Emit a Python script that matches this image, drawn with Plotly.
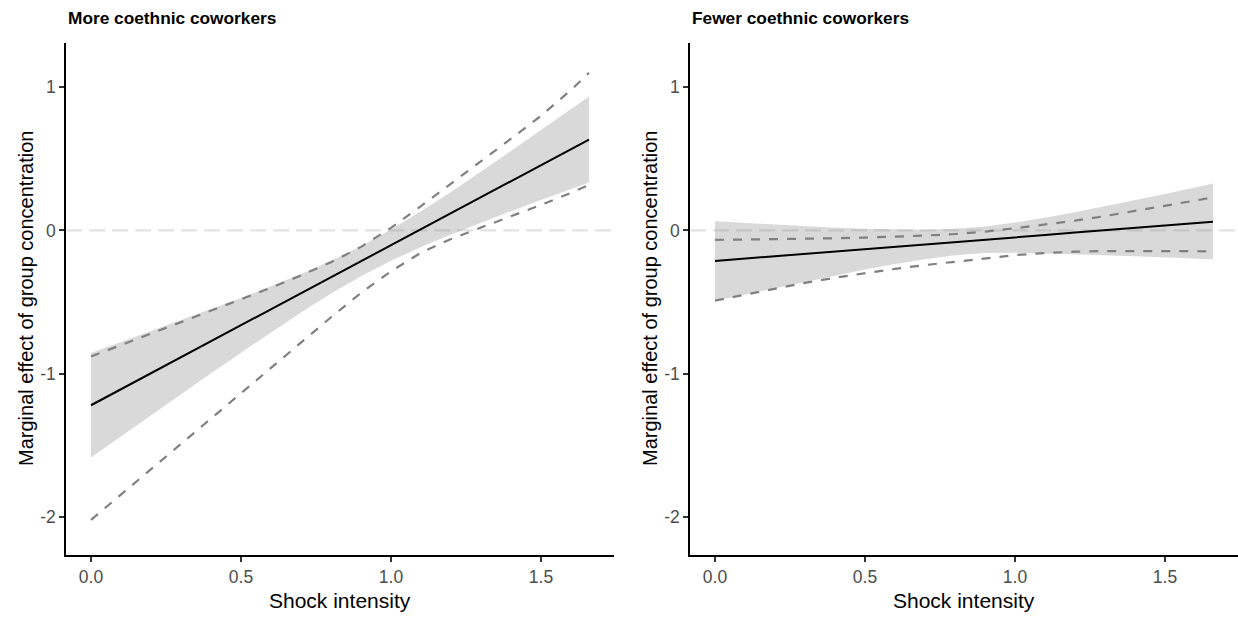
import plotly.graph_objects as go

# ---------------- data ----------------
panel_titles = ["More coethnic coworkers", "Fewer coethnic coworkers"]
x_title = "Shock intensity"
y_title = "Marginal effect of group concentration"

shock = [0.0, 0.1, 0.2, 0.3, 0.4, 0.5, 0.6, 0.7, 0.8, 0.9,
         1.0, 1.1, 1.2, 1.3, 1.4, 1.5, 1.6, 1.66]

# Panel 1: more coethnic coworkers
more_est = [-1.220, -1.108, -0.997, -0.885, -0.773, -0.662, -0.550, -0.438, -0.326,
            -0.215, -0.103, 0.009, 0.120, 0.232, 0.344, 0.456, 0.567, 0.634]
more_ci_hi = [-0.855, -0.779, -0.704, -0.627, -0.549, -0.471, -0.390, -0.304, -0.212,
              -0.110, 0.006, 0.134, 0.269, 0.410, 0.554, 0.700, 0.846, 0.934]
more_ci_lo = [-1.585, -1.437, -1.290, -1.143, -0.997, -0.853, -0.710, -0.572, -0.440,
              -0.320, -0.212, -0.116, -0.029, 0.054, 0.134, 0.212, 0.288, 0.334]
more_alt_hi = [-0.880, -0.800, -0.722, -0.643, -0.563, -0.482, -0.400, -0.314, -0.222,
               -0.115, 0.018, 0.170, 0.325, 0.480, 0.640, 0.800, 0.980, 1.100]
more_alt_lo = [-2.020, -1.843, -1.666, -1.489, -1.312, -1.135, -0.958, -0.781, -0.606,
               -0.436, -0.285, -0.155, -0.060, 0.020, 0.098, 0.178, 0.262, 0.318]

# Panel 2: fewer coethnic coworkers
fewer_est = [-0.213, -0.197, -0.180, -0.164, -0.147, -0.131, -0.114, -0.098, -0.081,
             -0.065, -0.048, -0.032, -0.015, 0.002, 0.018, 0.035, 0.051, 0.061]
fewer_ci_hi = [0.064, 0.052, 0.040, 0.029, 0.019, 0.011, 0.006, 0.005, 0.012,
               0.028, 0.055, 0.088, 0.127, 0.168, 0.211, 0.255, 0.300, 0.327]
fewer_ci_lo = [-0.490, -0.446, -0.400, -0.357, -0.313, -0.273, -0.234, -0.201, -0.174,
               -0.158, -0.155, -0.160, -0.166, -0.173, -0.181, -0.189, -0.197, -0.202]
fewer_alt_hi = [-0.066, -0.064, -0.062, -0.059, -0.055, -0.050, -0.044, -0.036, -0.025,
                -0.008, 0.015, 0.040, 0.068, 0.100, 0.135, 0.170, 0.208, 0.230]
fewer_alt_lo = [-0.490, -0.447, -0.405, -0.366, -0.330, -0.298, -0.268, -0.242, -0.218,
                -0.198, -0.172, -0.158, -0.148, -0.144, -0.143, -0.143, -0.145, -0.147]

x_ticks = [0.0, 0.5, 1.0, 1.5]
x_ticktext = ["0.0", "0.5", "1.0", "1.5"]
y_ticks = [-2, -1, 0, 1]
y_ticktext = ["-2", "-1", "0", "1"]

x_range = [-0.083, 1.743]
y_range = [-2.265, 1.31]

# ---------------- styling ----------------
FONT = "Liberation Sans, Arial, Helvetica, sans-serif"
RIBBON = "rgb(217,217,217)"
DASH_COL = "rgb(128,128,128)"
ZERO_COL = "rgba(128,128,128,0.22)"

panels = [
    (more_est, more_ci_lo, more_ci_hi, more_alt_lo, more_alt_hi, "x", "y"),
    (fewer_est, fewer_ci_lo, fewer_ci_hi, fewer_alt_lo, fewer_alt_hi, "x2", "y2"),
]

fig = go.Figure()
for est, lo, hi, alo, ahi, xa, ya in panels:
    fig.add_trace(go.Scatter(x=shock, y=lo, mode="lines", line=dict(width=0),
                             xaxis=xa, yaxis=ya, hoverinfo="skip", showlegend=False))
    fig.add_trace(go.Scatter(x=shock, y=hi, mode="lines", line=dict(width=0),
                             fill="tonexty", fillcolor=RIBBON,
                             xaxis=xa, yaxis=ya, hoverinfo="skip", showlegend=False))
    fig.add_trace(go.Scatter(x=x_range, y=[0, 0], mode="lines",
                             line=dict(color=ZERO_COL, width=2.3, dash="16px,7px"),
                             xaxis=xa, yaxis=ya, hoverinfo="skip", showlegend=False))
    for band in (ahi, alo):
        fig.add_trace(go.Scatter(x=shock, y=band, mode="lines",
                                 line=dict(color=DASH_COL, width=2.2, dash="9px,9px"),
                                 xaxis=xa, yaxis=ya, showlegend=False))
    fig.add_trace(go.Scatter(x=shock, y=est, mode="lines",
                             line=dict(color="black", width=2.0),
                             xaxis=xa, yaxis=ya, showlegend=False))

W, H = 1238, 618
x_doms = [[66.1 / W, 613.9 / W], [690.1 / W, 1237.9 / W]]
y_dom = [(H - 555.0) / H, (H - 42.7) / H]

tick_font = dict(family=FONT, size=17.5, color="#4d4d4d")
common_x = dict(range=x_range, tickvals=x_ticks, ticktext=x_ticktext,
                showline=True, linecolor="black", linewidth=1.8,
                ticks="outside", ticklen=5, tickwidth=1.6, tickcolor="#333333",
                tickfont=tick_font,
                showgrid=False, zeroline=False, automargin=False, fixedrange=True)
common_y = dict(range=y_range, tickvals=y_ticks, ticktext=y_ticktext,
                showline=True, linecolor="black", linewidth=1.8,
                ticks="outside", ticklen=5, tickwidth=1.6, tickcolor="#333333",
                tickfont=tick_font,
                showgrid=False, zeroline=False, automargin=False, fixedrange=True)

layout = dict(
    width=W, height=H,
    margin=dict(l=0, r=0, t=0, b=0),
    paper_bgcolor="white", plot_bgcolor="white",
    showlegend=False,
    xaxis=dict(common_x, domain=x_doms[0], anchor="y"),
    yaxis=dict(common_y, domain=y_dom, anchor="x"),
    xaxis2=dict(common_x, domain=x_doms[1], anchor="y2"),
    yaxis2=dict(common_y, domain=y_dom, anchor="x2"),
)
fig.update_layout(**layout)

annotations = []
for i, title in enumerate(panel_titles):
    x0, x1 = x_doms[i]
    annotations.append(dict(text="<b>" + title + "</b>", x=x0, y=1 - 18 / H,
                            xref="paper", yref="paper", xanchor="left", yanchor="middle",
                            showarrow=False, font=dict(family=FONT, size=17.3, color="black")))
    annotations.append(dict(text=x_title, x=(x0 + x1) / 2, y=1 - 600 / H,
                            xref="paper", yref="paper", xanchor="center", yanchor="middle",
                            showarrow=False, font=dict(family=FONT, size=21, color="black")))
    annotations.append(dict(text=y_title, x=(x0 * W - 40) / W, y=(y_dom[0] + y_dom[1]) / 2,
                            xref="paper", yref="paper", xanchor="center", yanchor="middle",
                            textangle=-90, showarrow=False,
                            font=dict(family=FONT, size=20, color="black")))
fig.update_layout(annotations=annotations)

fig.write_html("out.html",
               config={"displayModeBar": False},
               post_script="document.body.style.margin='0';document.body.style.overflow='hidden';")
